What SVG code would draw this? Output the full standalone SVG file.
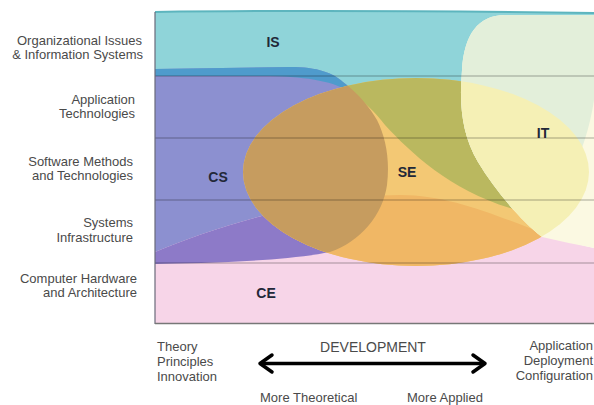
<svg xmlns="http://www.w3.org/2000/svg" xmlns:xlink="http://www.w3.org/1999/xlink" width="594" height="405" viewBox="0 0 594 405">
<style>
.lbl{font-family:"Liberation Sans",Arial,sans-serif;font-size:13px;fill:#4a4a4a}
.r{text-anchor:end}
.tag{font-family:"Liberation Sans",Arial,sans-serif;font-size:14px;font-weight:bold;fill:#222838;text-anchor:middle}
.row{stroke:#000;stroke-opacity:0.22;stroke-width:1.4;fill:none}
</style>
<defs>
<rect id="pBand" x="155" y="12" width="439" height="64"/>
<path id="pLobe" d="M270,76 C310,77 335,82 350,92 C365,102 375,112 385,125 C410,152 450,190 510,208 C555,220 585,160 594,100 L594,76 Z"/>
<path id="pCS" d="M155,69 L290,67 C318,67 333,73 343,82 C360,95 370,108 377,120 C386,138 390,160 387,185 C383,215 360,242 330,252 C280,262 200,263 155,264 Z"/>
<path id="pCE" d="M155,252 C220,225 320,195 400,195 C470,195 530,235 594,248 L594,323 L155,323 Z"/>
<ellipse id="pSE" cx="416" cy="172" rx="173" ry="94"/>
<path id="pIT" d="M594,15 L505,15 C478,15 464,35 462,70 C459,105 462,135 478,162 C495,190 520,220 542,237 C560,241 578,245 594,248 Z"/>
<clipPath id="cCS"><use xlink:href="#pCS"/></clipPath>
<clipPath id="cSE"><use xlink:href="#pSE"/></clipPath>
<clipPath id="cIT"><use xlink:href="#pIT"/></clipPath>
</defs>

<g id="IS">
<use xlink:href="#pBand" fill="#8fd4d9"/>
<use xlink:href="#pLobe" fill="#8fd4d9"/>
<path d="M155,12 C300,10 450,11 594,13" stroke="#5db5be" stroke-width="2" fill="none"/>
</g>
<g id="CS">
<use xlink:href="#pCS" fill="#8c90d0"/>
<g clip-path="url(#cCS)"><use xlink:href="#pBand" fill="#4f9bcc"/><use xlink:href="#pLobe" fill="#4f9bcc"/></g>
</g>
<g id="CE">
<use xlink:href="#pCE" fill="#f7d5e8"/>
<g clip-path="url(#cCS)"><use xlink:href="#pCE" fill="#8d7ac8"/></g>
</g>
<g id="SE">
<use xlink:href="#pSE" fill="#f3c874"/>
<g clip-path="url(#cSE)">
<use xlink:href="#pCE" fill="#f0b765"/>
<use xlink:href="#pLobe" fill="#bab85f"/>
<use xlink:href="#pCS" fill="#c69c5f"/>
</g>
</g>
<g id="IT">
<use xlink:href="#pIT" fill="#fbf9e2"/>
<g clip-path="url(#cIT)">
<use xlink:href="#pBand" fill="#e3efda"/>
<use xlink:href="#pLobe" fill="#e3efda"/>
<use xlink:href="#pSE" fill="#f5f0b5"/>
</g>
</g>

<g id="grid">
<line class="row" x1="155" y1="76" x2="594" y2="76"/>
<line class="row" x1="155" y1="138" x2="594" y2="138"/>
<line class="row" x1="155" y1="200" x2="594" y2="200"/>
<line class="row" x1="155" y1="263" x2="594" y2="263"/>
<line x1="155" y1="12" x2="155" y2="324" stroke="#6a6a7a" stroke-width="1.2"/>
<line x1="155" y1="323.5" x2="594" y2="323.5" stroke="#777" stroke-width="1.5"/>
</g>

<g id="tags">
<text class="tag" x="273" y="47">IS</text>
<text class="tag" x="218" y="182" fill="#1c2350">CS</text>
<text class="tag" x="407" y="177">SE</text>
<text class="tag" x="543" y="138">IT</text>
<text class="tag" x="266" y="298">CE</text>
</g>

<g id="rows">
<text class="lbl r" x="142" y="44.5">Organizational Issues</text>
<text class="lbl r" x="143" y="58.5">&amp; Information Systems</text>
<text class="lbl r" x="135" y="104">Application</text>
<text class="lbl r" x="135" y="117.5">Technologies</text>
<text class="lbl r" x="133" y="166">Software Methods</text>
<text class="lbl r" x="133" y="179.5">and Technologies</text>
<text class="lbl r" x="133" y="227">Systems</text>
<text class="lbl r" x="133" y="242">Infrastructure</text>
<text class="lbl r" x="137" y="283">Computer Hardware</text>
<text class="lbl r" x="137" y="296.5">and Architecture</text>
</g>

<g id="axis">
<text class="lbl" x="157" y="351">Theory</text>
<text class="lbl" x="157" y="366">Principles</text>
<text class="lbl" x="157" y="381">Innovation</text>
<text class="lbl" x="373" y="352" text-anchor="middle" style="font-size:14px">DEVELOPMENT</text>
<path d="M261,363.5 L484,363.5" stroke="#000" stroke-width="3.5" fill="none"/>
<path d="M272,355 L260,363.5 L272,372 M473,355 L485,363.5 L473,372" stroke="#000" stroke-width="3.5" fill="none" stroke-linecap="round" stroke-linejoin="round"/>
<text class="lbl" x="260" y="402">More Theoretical</text>
<text class="lbl" x="407" y="402">More Applied</text>
<text class="lbl r" x="593" y="350">Application</text>
<text class="lbl r" x="593" y="365">Deployment</text>
<text class="lbl r" x="593" y="380">Configuration</text>
</g>
</svg>
